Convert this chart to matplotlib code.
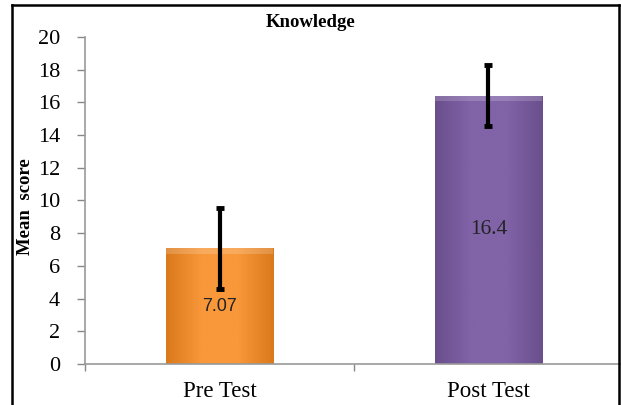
import numpy as np
import matplotlib
matplotlib.use('Agg')
import matplotlib.pyplot as plt
from matplotlib.lines import Line2D
from matplotlib.colors import LinearSegmentedColormap

# data
categories = ['Pre Test', 'Post Test']
means = [7.07, 16.4]
errors = [2.5, 1.85]
labels = ['7.07', '16.4']
y_ticks = list(range(0, 21, 2))

# colours: edge, centre
bar_colors = [('#DB7A1C', '#F8983A'), ('#6A4F8C', '#8163A8')]

plt.rcParams['font.family'] = ['Liberation Serif', 'DejaVu Serif']

fig = plt.figure(figsize=(6.21, 4.05), dpi=100)
ax = fig.add_axes([0.137, 0.101, 0.866, 0.808])

x = np.arange(len(categories))
bars = ax.bar(x, means, width=0.40, color=[c[1] for c in bar_colors],
              edgecolor='none', zorder=2)

# gradient fill clipped to each bar
for b, (c_edge, c_mid) in zip(bars, bar_colors):
    cmap = LinearSegmentedColormap.from_list('g', [c_edge, c_mid, c_mid, c_edge])
    grad = np.linspace(0, 1, 100).reshape(1, -1)
    bx, by = b.get_x(), b.get_y()
    im = ax.imshow(grad, cmap=cmap, aspect='auto', zorder=2.1,
                   extent=[bx, bx + b.get_width(), by, by + b.get_height()])
    im.set_clip_path(b)
    # lighter bevel on top
    ax.bar(b.get_x() + b.get_width() / 2, 0.35, bottom=b.get_height() - 0.35,
           width=b.get_width(), color='white', alpha=0.18, zorder=2.2)

ax.errorbar(x, means, yerr=errors, fmt='none', ecolor='black',
            elinewidth=3.0, capsize=3, capthick=3.5, zorder=3)

for xi, m, t in zip(x, means, labels):
    fam = 'Liberation Sans' if t == '7.07' else 'Liberation Serif'
    size = 13 if t == '7.07' else 15.5
    ax.text(xi, m / 2, t, ha='center', va='center', fontsize=size,
            family=fam, color='#222222', zorder=4)

ax.set_xlim(-0.5, 1.5)
ax.set_ylim(0, 20)
ax.set_yticks(y_ticks)
ax.tick_params(axis='y', labelsize=16, colors='#888888', labelcolor='black',
               length=6, width=1, direction='out', pad=12)
ax.set_xticks(x)
ax.set_xticklabels(categories, fontsize=16.5)
ax.set_xticks([-0.5, 0.5, 1.5], minor=True)
ax.tick_params(axis='x', which='major', length=0, pad=12)
ax.tick_params(axis='x', which='minor', length=5, width=1, colors='#888888',
               direction='out')

for s in ['top', 'right']:
    ax.spines[s].set_visible(False)
for s in ['left', 'bottom']:
    ax.spines[s].set_color('#999999')
    ax.spines[s].set_linewidth(1.2)

ax.set_ylabel('Mean  score', fontsize=13.5, fontweight='bold')
ax.yaxis.set_label_coords(-0.095, 0.48)
fig.text(0.5, 0.945, 'Knowledge', ha='center', va='center', fontsize=13.5,
         fontweight='bold')

# outer frame (left, top, right)
fx0, fx1, fy1 = 12 / 621, 619 / 621, 1 - 5 / 405
for xs, ys in [([fx0, fx0], [0, fy1]), ([fx0, fx1], [fy1, fy1]), ([fx1, fx1], [fy1, 0])]:
    fig.add_artist(Line2D(xs, ys, color='black', linewidth=1.8,
                          transform=fig.transFigure))

fig.savefig('out.png', dpi=100)
